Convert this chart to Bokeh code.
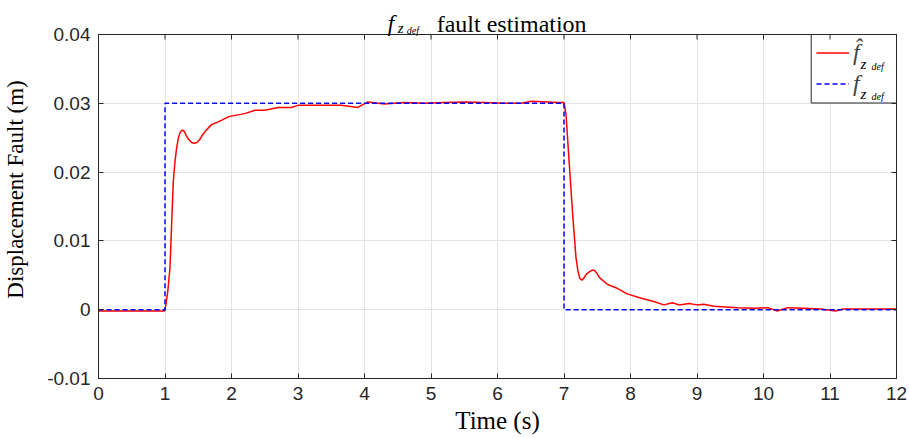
from bokeh.plotting import figure
from bokeh.models import (Range1d, FixedTicker, LinearAxis, Label, Legend, LegendItem,
                          CustomLabelingPolicy, BoxAnnotation)
from bokeh.embed import file_html
from bokeh.resources import INLINE

# ---------------- data ----------------
t_est = [0.0, 0.5, 0.99, 1.0, 1.04, 1.075, 1.1, 1.125, 1.15, 1.175, 1.2, 1.225, 1.245, 1.265,
         1.29, 1.32, 1.35, 1.40, 1.44, 1.48, 1.52, 1.55, 1.62, 1.7, 1.8,
         1.97, 2.2, 2.35, 2.5, 2.7, 2.9, 3.0, 3.3, 3.65, 3.9, 4.05, 4.3, 4.6, 4.9, 5.2, 5.5,
         5.8, 6.1, 6.36, 6.51, 6.76, 6.9, 7.0, 7.03, 7.08, 7.13, 7.18, 7.21, 7.24, 7.27, 7.30,
         7.33, 7.38, 7.43, 7.47, 7.50, 7.53,
         7.65, 7.78, 7.95, 8.15, 8.35, 8.5, 8.63, 8.73, 8.88, 9.0, 9.1, 9.26, 9.61, 9.86,
         10.06, 10.21, 10.36, 10.6, 10.86, 11.08, 11.2, 11.6, 12.0]
f_est = [-0.0002, -0.0002, -0.0002, -0.0001, 0.0025, 0.0061, 0.0125, 0.0187, 0.0215, 0.0235,
         0.0249, 0.0257, 0.0260, 0.0261, 0.0259, 0.0253, 0.0248, 0.0243, 0.0242, 0.0243,
         0.0247, 0.0252, 0.0261, 0.0269, 0.0273, 0.0281, 0.0285, 0.0290, 0.0290, 0.0294,
         0.0294, 0.0297, 0.0297, 0.0297, 0.0294, 0.0302, 0.0299, 0.0301, 0.0300, 0.0301,
         0.0302, 0.0301, 0.0300, 0.0300, 0.0303, 0.0302, 0.0301, 0.0301, 0.0284, 0.0211,
         0.0139, 0.0076, 0.0056, 0.0045, 0.0043, 0.0046, 0.0051, 0.0055, 0.0058, 0.0056,
         0.0052, 0.0047, 0.0037, 0.0032, 0.0023, 0.0017, 0.0012, 0.0007, 0.0010, 0.0007,
         0.0009, 0.0007, 0.0008, 0.0005, 0.0003, 0.0002, 0.0003, -0.0002, 0.0003, 0.0002,
         0.0001, -0.0002, 0.0001, 0.0001, 0.0001]
t_ref = [0, 1, 1, 7, 7, 12]
f_ref = [0, 0, 0.03, 0.03, 0, 0]

x_ticks = list(range(0, 13))
y_ticks = [-0.01, 0.0, 0.01, 0.02, 0.03, 0.04]
y_tick_labels = ["-0.01", "0", "0.01", "0.02", "0.03", "0.04"]

title_parts = ["f", "z", "def", "fault estimation"]
legend_labels = ["f\u0302", "f"]

# ---------------- layout ----------------
W, H = 909, 438
L, R, B = 96, 13, 60
BOX_TOP = 34                      # page y of the axes box top (value Y1)
X0, X1, Y0, Y1 = 0, 12, -0.01, 0.04
FRAME_BOTTOM = H - B              # page y of value Y0
PX_PER_Y = (FRAME_BOTTOM - BOX_TOP) / (Y1 - Y0)

def xd(px):
    return X0 + (px - L) / (W - L - R) * (X1 - X0)

def yd(py):
    return Y0 + (FRAME_BOTTOM - py) / PX_PER_Y

Y_TOP = yd(0)                     # frame extends up to the page top (title area)

INK = "#262626"
SERIF = "Liberation Serif"
SANS = "Liberation Sans"

p = figure(width=W, height=H, x_range=Range1d(X0, X1), y_range=Range1d(Y0, Y_TOP),
           output_backend="svg", toolbar_location=None,
           min_border_left=L, min_border_right=R, min_border_top=0, min_border_bottom=B)
p.background_fill_color = "white"
p.border_fill_color = "white"
p.outline_line_color = None

for ax in (p.xaxis[0], p.yaxis[0]):
    ax.axis_line_color = INK
    ax.major_tick_line_color = INK
    ax.major_tick_in = 5
    ax.major_tick_out = 0
    ax.minor_tick_line_color = None
    ax.major_label_text_font = SANS
    ax.major_label_text_font_size = "19px"
    ax.major_label_text_color = INK
    ax.axis_label_text_font = SERIF
    ax.axis_label_text_font_style = "normal"
    ax.axis_label_text_color = "black"

p.xaxis.ticker = FixedTicker(ticks=x_ticks)
p.yaxis.ticker = FixedTicker(ticks=y_ticks)
p.yaxis.bounds = (Y0, Y1)
p.yaxis.major_label_overrides = {v: s for v, s in zip(y_ticks, y_tick_labels)}
p.xaxis.major_label_standoff = 8
p.yaxis.major_label_standoff = 8
p.xaxis.axis_label = "Time (s)"
p.yaxis.axis_label = "Displacement Fault (m)"
p.xaxis.axis_label_text_font_size = "25px"
p.yaxis.axis_label_text_font_size = "23px"
p.xaxis.axis_label_standoff = 4
p.yaxis.axis_label_standoff = 16

# right-hand ticks of the box (no labels)
no_labels = CustomLabelingPolicy(code="return new Set()")
right = LinearAxis(ticker=FixedTicker(ticks=y_ticks), bounds=(Y0, Y1))
right.axis_line_color = INK
right.major_tick_line_color = INK
right.major_tick_in = 5
right.major_tick_out = 0
right.minor_tick_line_color = None
right.major_label_policy = no_labels
right.major_label_text_font_size = "0px"
right.major_label_standoff = 0
p.add_layout(right, "right")

p.grid.grid_line_color = "#e3e3e3"
p.grid.grid_line_width = 1
p.xgrid.ticker = FixedTicker(ticks=x_ticks)
p.ygrid.ticker = FixedTicker(ticks=y_ticks)

# hide grid lines in the title area above the axes box
p.add_layout(BoxAnnotation(bottom=Y1, fill_color="white", fill_alpha=1.0,
                           line_alpha=0, level="underlay"))
# white legend panel
p.add_layout(BoxAnnotation(left=xd(810.5), right=X1, top=Y1, bottom=yd(102.5),
                           fill_color="white", fill_alpha=1.0, line_color=INK,
                           line_width=1, line_alpha=1.0, level="underlay"))

r_est = p.line(t_est, f_est, line_color="#ff0000", line_width=1.5)
r_ref = p.line(t_ref, f_ref, line_color="#0000ff", line_width=1.5, line_dash="5 3")

# top ticks of the box, at the x tick positions
tick_len = 5 / PX_PER_Y
p.segment(x0=x_ticks, y0=[Y1] * len(x_ticks), x1=x_ticks,
          y1=[Y1 - tick_len] * len(x_ticks), line_color=INK, line_width=1)

# axes box outline
p.add_layout(BoxAnnotation(left=X0, right=X1, bottom=Y0, top=Y1, fill_alpha=0,
                           line_color=INK, line_width=1, line_alpha=1.0))

legend = Legend(items=[LegendItem(label=legend_labels[0], renderers=[r_est]),
                       LegendItem(label=legend_labels[1], renderers=[r_ref])],
                location=(811 - L, FRAME_BOTTOM - 102), margin=0, padding=3, spacing=0,
                glyph_width=33, glyph_height=31, label_height=31, label_width=42,
                label_standoff=4, border_line_alpha=0, background_fill_alpha=0,
                label_text_font=SERIF, label_text_font_style="italic",
                label_text_font_size="24px")
p.add_layout(legend, "center")

def lab(txt, px, py, size, style="italic"):
    p.add_layout(Label(x=xd(px), y=yd(py), text=txt, text_font=SERIF,
                       text_font_style=style, text_font_size=f"{size}px",
                       text_color="black", text_baseline="alphabetic"))

# title (inside the extended frame, above the axes box)
lab(title_parts[0], 386, 23, 23)
lab(title_parts[1], 396, 27, 15)
lab(title_parts[2], 405, 30, 10)
lab(title_parts[3], 435, 23.5, 24, style="normal")

# legend subscripts
lab("z", 860, 63, 15)
lab("def", 871, 66, 10)
lab("z", 860, 93, 15)
lab("def", 871, 96, 10)

open("out.html", "w").write(file_html(p, INLINE))
